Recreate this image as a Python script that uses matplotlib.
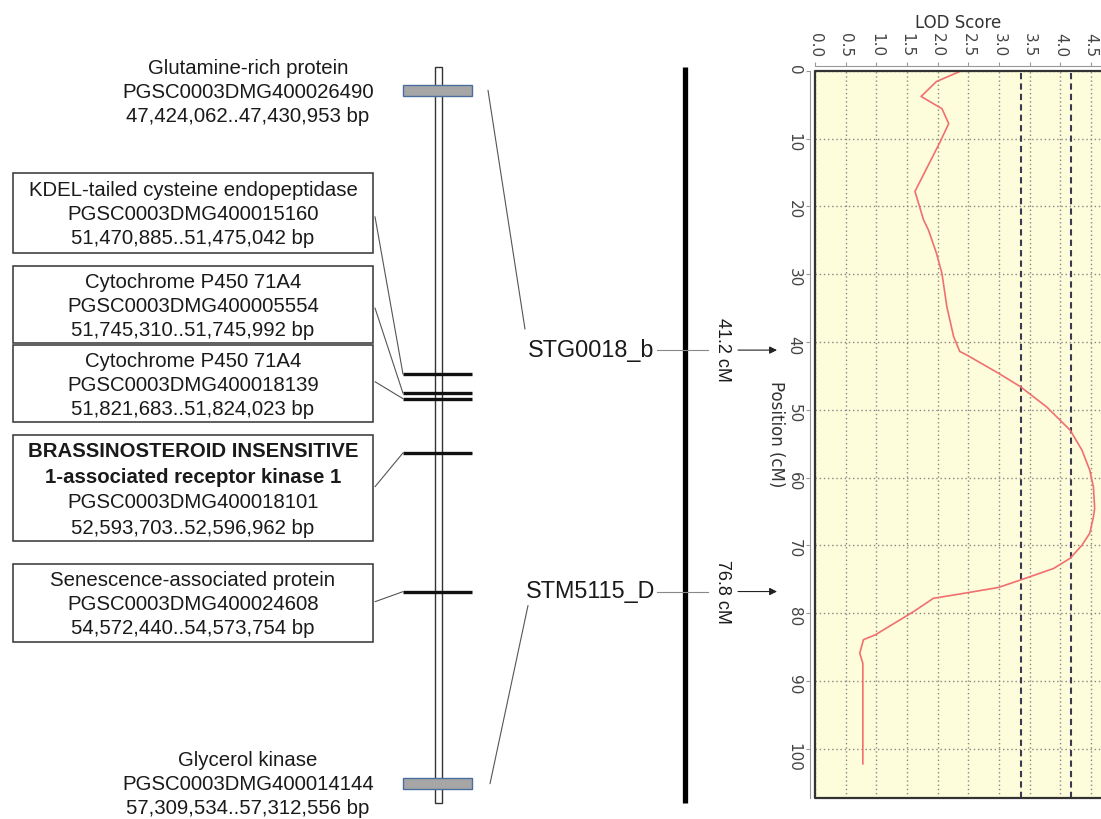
import matplotlib
matplotlib.use("Agg")
import matplotlib.pyplot as plt
from matplotlib.patches import Rectangle, ConnectionPatch
from matplotlib import transforms
import numpy as np

# -----------------------------
# Datos: genes del mapa fisico
# -----------------------------
gene_names = ["Glutamine-rich protein",
              "KDEL-tailed cysteine endopeptidase",
              "Cytochrome P450 71A4",
              "Cytochrome P450 71A4",
              "BRASSINOSTEROID INSENSITIVE\n1-associated receptor kinase 1",
              "Senescence-associated protein",
              "Glycerol kinase"]
gene_ids = ["PGSC0003DMG400026490", "PGSC0003DMG400015160", "PGSC0003DMG400005554",
            "PGSC0003DMG400018139", "PGSC0003DMG400018101", "PGSC0003DMG400024608",
            "PGSC0003DMG400014144"]
gene_start = [47424062, 51470885, 51745310, 51821683, 52593703, 54572440, 57309534]
gene_end = [47430953, 51475042, 51745992, 51824023, 52596962, 54573754, 57312556]

# marcadores del mapa genetico
marker_names = ["STG0018_b", "STM5115_D"]
marker_cm = [41.2, 76.8]

# curva LOD (posicion cM, LOD)
lod_pos = [0, 1.6, 3.8, 5.6, 7.8, 10.5, 17.8, 22.0, 23.5, 26.9, 29.9, 34.8, 39.2, 41.4,
           41.9, 44.6, 46.6, 49.6, 53.0, 55.9, 58.9, 61.4, 64.5, 65.8, 68.2, 70.0, 71.9,
           73.4, 75.1, 76.2, 77.0, 77.8, 79.8, 83.2, 83.9, 85.9, 87.4, 102.2]
lod_val = [2.39, 1.98, 1.73, 2.07, 2.18, 2.04, 1.63, 1.77, 1.85, 1.98, 2.07, 2.15, 2.26, 2.36,
           2.47, 2.99, 3.35, 3.78, 4.16, 4.35, 4.48, 4.54, 4.56, 4.54, 4.48, 4.35, 4.16,
           3.89, 3.35, 2.99, 2.47, 1.93, 1.60, 0.98, 0.79, 0.73, 0.78, 0.78]
thresholds = [3.36, 4.18]

# -----------------------------
# Figura
# -----------------------------
W, H = 1101, 819
fig = plt.figure(figsize=(W / 100, H / 100), dpi=100)

# capa de dibujo en pixeles
ax = fig.add_axes([0, 0, 1, 1])
ax.set_xlim(0, W)
ax.set_ylim(H, 0)
ax.axis("off")

# mapa fisico en Mbp
axp = fig.add_axes([0, 0, 1, 1])
axp.set_xlim(0, W)
axp.set_ylim(57.8137, 46.1404)
axp.axis("off")
axp.patch.set_alpha(0)

# grafica LOD
axl = fig.add_axes([815 / W, 21.3 / H, (W - 815) / W, 727 / H])

font_l = "Liberation Sans"
tcol = "#1a1a1a"

# cromosoma fisico
ax.add_patch(Rectangle((435, 67), 7, 736, facecolor="white", edgecolor="#333333", lw=1, zorder=2))

mids = [(s + e) / 2 / 1e6 for s, e in zip(gene_start, gene_end)]
for i, m in enumerate(mids):
    if i in (0, len(mids) - 1):
        axp.barh(m, 69, left=403, height=0.15, color="#a6a6a6", edgecolor="#4a6ea0", lw=1, zorder=3)
    else:
        axp.hlines(m, 403, 472, color="#111111", lw=2.4, zorder=3)


def fmt_bp(s, e):
    return f"{s:,}..{e:,} bp"


# textos sin caja (primero y ultimo)
for i, ys in ((0, [68, 92, 116]), (6, [761, 785, 809])):
    lines = [gene_names[i], gene_ids[i], fmt_bp(gene_start[i], gene_end[i])]
    for t, y in zip(lines, ys):
        ax.text(248, y, t, ha="center", va="center", fontsize=14.7, family=font_l, color=tcol)

# cajas de genes
boxes = [(1, 173, 253, 216.7), (2, 266, 343.3, 308), (3, 345, 421.7, 381.7),
         (4, 435, 540.7, 486.7), (5, 564, 642, 601.7)]
for i, y0, y1, yl in boxes:
    ax.add_patch(Rectangle((13, y0), 360, y1 - y0, fill=False, edgecolor="#333333", lw=1.1))
    name_lines = gene_names[i].split("\n")
    lines = name_lines + [gene_ids[i], fmt_bp(gene_start[i], gene_end[i])]
    step = 25.5 if len(lines) == 4 else 24
    yc = (y0 + y1) / 2 + 2
    for k, t in enumerate(lines):
        y = yc + (k - (len(lines) - 1) / 2) * step
        bold = k < len(name_lines) and len(name_lines) > 1
        ax.text(193, y, t, ha="center", va="center", fontsize=14.7, family=font_l,
                color=tcol, fontweight="bold" if bold else "normal")
    con = ConnectionPatch(xyA=(375, yl), coordsA=ax.transData,
                          xyB=(403, mids[i]), coordsB=axp.transData,
                          color="#555555", lw=0.8)
    fig.add_artist(con)

# mapa genetico
ax.plot([685, 685], [67, 803], color="black", lw=3.8, solid_capstyle="butt")

blend = transforms.blended_transform_factory(ax.transData, axl.transData)
for name, cm in zip(marker_names, marker_cm):
    ax.text(591, cm, name, transform=blend, ha="center", va="center", fontsize=16.8,
            family=font_l, color=tcol)
    ax.plot([657, 708], [cm, cm], transform=blend, color="#888888", lw=0.8)
    ax.text(722, cm, f"{cm} cM", transform=blend, rotation=270, ha="center", va="center",
            fontsize=13, family=font_l, color=tcol)
    ax.annotate("", xy=(777, cm), xytext=(738, cm), xycoords=blend, textcoords=blend,
                arrowprops=dict(arrowstyle="-|>", color="#222222", lw=0.8,
                                mutation_scale=11, shrinkA=0, shrinkB=0))

# lineas del mapa fisico a los marcadores
up = transforms.offset_copy(blend, fig=fig, x=0, y=21, units="dots")
down = transforms.offset_copy(blend, fig=fig, x=0, y=-14, units="dots")
fig.add_artist(ConnectionPatch(xyA=(488, mids[0]), coordsA=axp.transData,
                               xyB=(525, marker_cm[0]), coordsB=up, color="#555555", lw=0.8))
fig.add_artist(ConnectionPatch(xyA=(490, mids[-1]), coordsA=axp.transData,
                               xyB=(528, marker_cm[1]), coordsB=down, color="#555555", lw=0.8))

# -----------------------------
# Grafica LOD
# -----------------------------
axl.set_facecolor("#fdfcdb")
axl.plot(lod_val, lod_pos, color="#f07070", lw=1.2, zorder=4)
for t in thresholds:
    axl.axvline(t, color="#3a3a50", lw=1.5, dashes=(3, 2), zorder=3)

axl.set_xlim(0, (W - 815) / 61.33)
axl.set_ylim(107.2, 0)
axl.set_xticks(np.arange(0, 4.51, 0.5))
axl.set_yticks(np.arange(0, 101, 10))
axl.set_xticklabels([f"{v:.1f}" for v in np.arange(0, 4.51, 0.5)])
axl.grid(True, color="#888888", lw=1, linestyle=(0, (1, 2)))
axl.set_axisbelow(True)

axl.xaxis.tick_top()
axl.xaxis.set_label_position("top")
for s in ("bottom", "right"):
    axl.spines[s].set_visible(False)
for s in ("top", "left"):
    axl.spines[s].set_position(("outward", 3.6))
    axl.spines[s].set_color("#999999")
axl.tick_params(axis="both", colors="#999999", length=3, labelcolor="#444444", labelsize=11)
axl.tick_params(axis="x", labelrotation=270, pad=3)
axl.tick_params(axis="y", labelrotation=270, pad=3)
for lb in axl.get_xticklabels() + axl.get_yticklabels():
    lb.set_family("DejaVu Sans")
axl.plot([1, 0, 0, 1], [1, 1, 0, 0], transform=axl.transAxes, color="#333333", lw=1.6,
         clip_on=False, zorder=5)

axl.set_xlabel("LOD Score", fontsize=12, color="#333333", labelpad=4)
axl.set_ylabel("Position (cM)", fontsize=12, color="#333333", rotation=270, labelpad=8)
axl.yaxis.label.set_va("center")

fig.savefig("out.png", dpi=100)
